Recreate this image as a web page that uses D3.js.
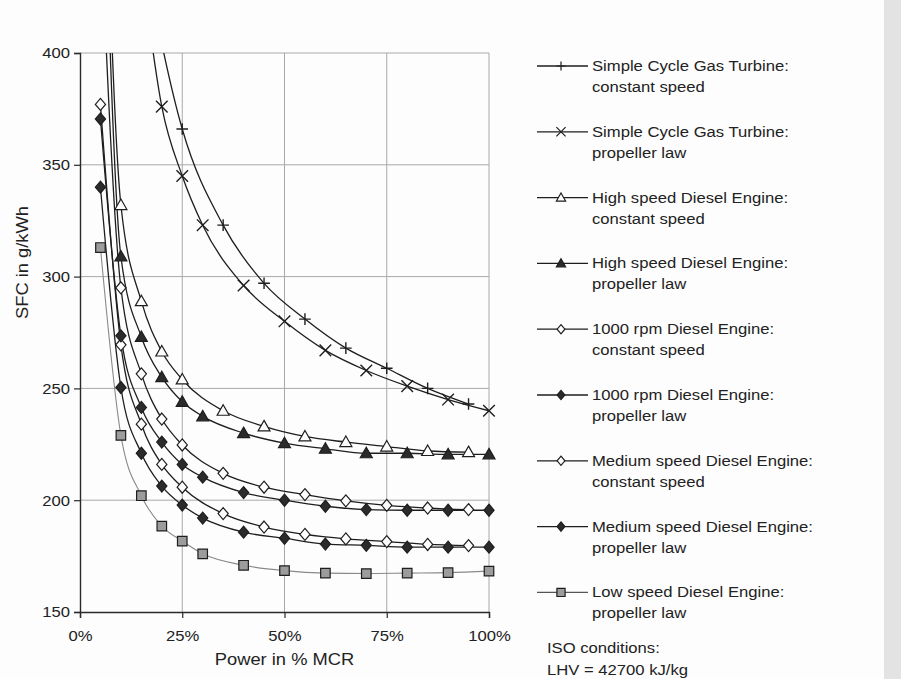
<!DOCTYPE html>
<html>
<head>
<meta charset="utf-8">
<script src="https://cdn.jsdelivr.net/npm/d3@7"></script>
<style>
  body { margin: 0; background: #fdfdfd; }
  svg text { font-family: "Liberation Sans", Arial, Helvetica, sans-serif; fill: #222; }
</style>
</head>
<body>
<svg id="chart" width="901" height="679"></svg>
<script>
// Specific fuel consumption vs. load for marine prime movers

// Axis ticks
const loadTicks = [0, 25, 50, 75, 100];
const sfcTicks = [150, 200, 250, 300, 350, 400];

// Simple cycle gas turbine, constant speed
const gtConstLoad = [15, 25, 35, 45, 55, 65, 75, 85, 95];
const gtConstSfc  = [450, 366, 323, 297, 281, 268, 259, 250, 243];

// Simple cycle gas turbine, propeller law
const gtPropLoad = [15, 20, 25, 30, 40, 50, 60, 70, 80, 90, 100];
const gtPropSfc  = [440, 376, 345, 323, 296, 280, 267, 258, 251, 245, 240];

// High speed diesel, constant speed
const hsConstLoad = [5, 10, 15, 20, 25, 35, 45, 55, 65, 75, 85, 95];
const hsConstSfc  = [560, 332, 289, 266.5, 254, 240, 233, 228.5, 226, 224, 222, 221.5];

// High speed diesel, propeller law
const hsPropLoad = [5, 10, 15, 20, 25, 30, 40, 50, 60, 70, 80, 90, 100];
const hsPropSfc  = [540, 309, 273, 255, 244, 237.5, 230, 225.5, 223, 221, 221, 220.5, 220.5];

// 1000 rpm diesel, constant speed
const rpmConstLoad = [5, 10, 15, 20, 25, 35, 45, 55, 65, 75, 85, 95];
const rpmConstSfc  = [460, 295, 256.5, 236.3, 224.7, 212, 205.8, 202.5, 199.7, 197.7, 196.5, 195.8];

// 1000 rpm diesel, propeller law
const rpmPropLoad = [5, 10, 15, 20, 25, 30, 40, 50, 60, 70, 80, 90, 100];
const rpmPropSfc  = [370.5, 273.5, 241.5, 226, 216, 210.3, 203.4, 200, 197.3, 195.8, 195.5, 195.5, 195.5];

// Medium speed diesel, constant speed
const msConstLoad = [5, 10, 15, 20, 25, 35, 45, 55, 65, 75, 85, 95];
const msConstSfc  = [377, 269.5, 234, 216, 205.8, 194, 188, 184.7, 182.7, 181.5, 180.2, 179.7];

// Medium speed diesel, propeller law
const msPropLoad = [5, 10, 15, 20, 25, 30, 40, 50, 60, 70, 80, 90, 100];
const msPropSfc  = [340, 250.4, 221, 206.3, 197.8, 192, 185.7, 183, 180.4, 179.8, 179, 179, 179];

// Low speed diesel, propeller law
const lsPropLoad = [5, 10, 15, 20, 25, 30, 40, 50, 60, 70, 80, 90, 100];
const lsPropSfc  = [313, 229, 202, 188.4, 181.7, 176, 170.9, 168.5, 167.4, 167.2, 167.4, 167.6, 168.3];

// Legend texts
const seriesNames = [
  ["Simple Cycle Gas Turbine:", "constant speed"],
  ["Simple Cycle Gas Turbine:", "propeller law"],
  ["High speed Diesel Engine:", "constant speed"],
  ["High speed Diesel Engine:", "propeller law"],
  ["1000 rpm Diesel Engine:", "constant speed"],
  ["1000 rpm Diesel Engine:", "propeller law"],
  ["Medium speed Diesel Engine:", "constant speed"],
  ["Medium speed Diesel Engine:", "propeller law"],
  ["Low speed Diesel Engine:", "propeller law"]
];
const noteLines = ["ISO conditions:", "LHV = 42700 kJ/kg"];

const seriesMarkers = ["plus", "cross", "triOpen", "triFilled", "diaOpen", "diaFilled", "diaOpen", "diaFilled", "square"];
const seriesLoads = [gtConstLoad, gtPropLoad, hsConstLoad, hsPropLoad, rpmConstLoad, rpmPropLoad, msConstLoad, msPropLoad, lsPropLoad];
const seriesSfc = [gtConstSfc, gtPropSfc, hsConstSfc, hsPropSfc, rpmConstSfc, rpmPropSfc, msConstSfc, msPropSfc, lsPropSfc];

const series = seriesNames.map((name, i) => ({
  name,
  marker: seriesMarkers[i],
  points: seriesLoads[i].map((l, j) => ({ load: l, sfc: seriesSfc[i][j] }))
}));

// ---------------------------------------------------------------
const W = 901, H = 679;
const plot = { left: 80, right: 489, top: 53, bottom: 612 };
const TEXT_STRETCH = 1.11;

const svg = d3.select("#chart");
svg.append("rect").attr("width", W).attr("height", H).attr("fill", "#fdfdfd");
svg.append("rect").attr("x", 884).attr("width", W - 884).attr("height", H).attr("fill", "#e3e3e3");

const x = d3.scaleLinear().domain([0, 100]).range([plot.left, plot.right]);
const y = d3.scaleLinear().domain([150, 400]).range([plot.bottom, plot.top]);

// gridlines
const grid = svg.append("g").attr("stroke", "#a8a8a8").attr("stroke-width", 1);
grid.selectAll("line.h").data(sfcTicks.filter(d => d > 150)).join("line")
  .attr("x1", plot.left).attr("x2", plot.right)
  .attr("y1", d => y(d)).attr("y2", d => y(d));
grid.selectAll("line.v").data(loadTicks.filter(d => d > 0)).join("line")
  .attr("y1", plot.top).attr("y2", plot.bottom)
  .attr("x1", d => x(d)).attr("x2", d => x(d));

// axes
function styleAxis(g) {
  g.attr("font-size", null).attr("font-family", null);
  g.select(".domain").attr("stroke", "#2a2a2a").attr("stroke-width", 1.4);
  g.selectAll(".tick line").attr("stroke", "#2a2a2a").attr("stroke-width", 1.2);
  g.selectAll(".tick text").attr("fill", "#2a2a2a").style("font-size", "15px")
    .attr("transform", `scale(${TEXT_STRETCH},1)`);
}
svg.append("g").attr("transform", `translate(0,${plot.bottom})`)
  .call(d3.axisBottom(x).tickValues(loadTicks).tickSizeOuter(0).tickSize(6).tickPadding(12)
    .tickFormat(d => d + "%"))
  .call(styleAxis);
svg.append("g").attr("transform", `translate(${plot.left},0)`)
  .call(d3.axisLeft(y).tickValues(sfcTicks).tickSizeOuter(0).tickSize(6).tickPadding(3)
    .tickFormat(d3.format("d")))
  .call(styleAxis);

// axis titles
svg.append("text")
  .attr("transform", `translate(${(plot.left + plot.right) / 2},665) scale(${TEXT_STRETCH},1)`)
  .attr("text-anchor", "middle").style("font-size", "16.5px").text("Power in % MCR");
svg.append("text")
  .attr("transform", `translate(22,${(plot.top + plot.bottom) / 2 - 70}) rotate(-90) scale(${TEXT_STRETCH},1)`)
  .attr("text-anchor", "middle").attr("dy", "0.35em").style("font-size", "16.5px").text("SFC in g/kWh");

// marker shapes
function markerPath(type, s) {
  switch (type) {
    case "plus": return `M${-s},0H${s}M0,${-s}V${s}`;
    case "cross": return `M${-s},${-s}L${s},${s}M${-s},${s}L${s},${-s}`;
    case "triOpen":
    case "triFilled": return `M0,${-s}L${s},${s * 0.75}L${-s},${s * 0.75}Z`;
    case "diaOpen":
    case "diaFilled": return `M0,${-s}L${s * 0.85},0L0,${s}L${-s * 0.85},0Z`;
    case "square": return `M${-s * 0.85},${-s * 0.85}H${s * 0.85}V${s * 0.85}H${-s * 0.85}Z`;
  }
}
function markerFill(type) {
  if (type === "triFilled" || type === "diaFilled") return "#2b2b2b";
  if (type === "square") return "#9c9c9c";
  if (type === "plus" || type === "cross") return "none";
  return "#fdfdfd";
}
function lineColor(type) { return type === "square" ? "#8a8a8a" : "#1e1e1e"; }

// clip
svg.append("clipPath").attr("id", "plotClip").append("rect")
  .attr("x", plot.left).attr("y", plot.top)
  .attr("width", plot.right - plot.left).attr("height", plot.bottom - plot.top);

const line = d3.line().x(d => x(d.load)).y(d => y(d.sfc)).curve(d3.curveMonotoneX);

const plotG = svg.append("g");
// draw lower series first so upper curves stay on top
series.slice().reverse().forEach(s => {
  plotG.append("path").datum(s.points)
    .attr("clip-path", "url(#plotClip)")
    .attr("fill", "none").attr("stroke", lineColor(s.marker))
    .attr("stroke-width", s.marker === "square" ? 1.1 : 1.3)
    .attr("d", line);
});
series.slice().reverse().forEach(s => {
  const size = s.marker === "square" ? 5.6 : (s.marker === "plus" || s.marker === "cross" ? 5.8 : 6);
  plotG.selectAll(null).data(s.points.filter(p => p.sfc <= 400)).join("path")
    .attr("transform", p => `translate(${x(p.load)},${y(p.sfc)})`)
    .attr("d", markerPath(s.marker, size))
    .attr("fill", markerFill(s.marker))
    .attr("stroke", "#1e1e1e").attr("stroke-width", s.marker === "plus" || s.marker === "cross" ? 1.4 : 1.2);
});

// legend
const legend = svg.append("g");
series.forEach((s, i) => {
  const cy = 66 + i * 65.8;
  const g = legend.append("g").attr("transform", `translate(0,${cy})`);
  g.append("line").attr("x1", 537).attr("x2", 588).attr("y1", 0).attr("y2", 0)
    .attr("stroke", lineColor(s.marker) === "#8a8a8a" ? "#555" : "#1e1e1e").attr("stroke-width", 1.3);
  g.append("path").attr("transform", "translate(561,0)")
    .attr("d", markerPath(s.marker, s.marker === "square" ? 4.8 : 4.6))
    .attr("fill", markerFill(s.marker)).attr("stroke", "#1e1e1e").attr("stroke-width", 1.2);
  s.name.forEach((t, k) => {
    g.append("text").attr("transform", `translate(592,${5 + k * 21}) scale(${TEXT_STRETCH},1)`)
      .style("font-size", "15px").text(t);
  });
});
noteLines.forEach((t, k) => {
  svg.append("text").attr("transform", `translate(547,${653 + k * 22}) scale(${TEXT_STRETCH},1)`)
    .style("font-size", "15px").text(t);
});
</script>
</body>
</html>
